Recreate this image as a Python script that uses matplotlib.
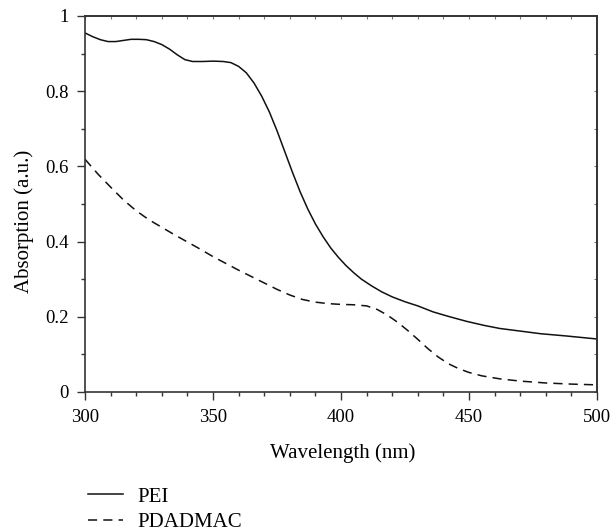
import numpy as np
import matplotlib
matplotlib.use('Agg')
from matplotlib import pyplot as plt
from matplotlib.ticker import MultipleLocator

# wavelength (nm) and absorption values
wl_pei = [300, 303, 306, 309, 312, 315, 318, 321, 324, 327, 330, 333, 336, 339,
          342, 346, 350, 354, 357, 360, 363, 366, 369, 372, 375, 378, 381, 384,
          387, 390, 393, 396, 399, 402, 405, 408, 412, 416, 420, 425, 430, 436,
          442, 449, 456, 462, 470, 478, 488, 500]
abs_pei = [0.955, 0.945, 0.937, 0.932, 0.932, 0.935, 0.938, 0.938, 0.937, 0.932,
           0.924, 0.912, 0.897, 0.884, 0.879, 0.879, 0.880, 0.879, 0.876, 0.866,
           0.849, 0.822, 0.787, 0.745, 0.695, 0.640, 0.585, 0.533, 0.487, 0.447,
           0.413, 0.383, 0.358, 0.336, 0.317, 0.300, 0.282, 0.266, 0.253, 0.240,
           0.229, 0.213, 0.201, 0.188, 0.177, 0.169, 0.162, 0.155, 0.149, 0.141]

wl_pdadmac = [300, 305, 310, 315, 320, 325, 330.5, 335, 340, 345, 350, 355, 360,
              365, 370, 375, 380, 385, 390, 395, 400, 405, 410, 414, 418, 422,
              426, 430, 434, 438, 442, 446, 450, 455, 462, 470, 480, 490, 500]
abs_pdadmac = [0.619, 0.580, 0.545, 0.511, 0.482, 0.458, 0.436, 0.418, 0.399,
               0.380, 0.360, 0.342, 0.324, 0.307, 0.290, 0.273, 0.258, 0.246,
               0.239, 0.235, 0.233, 0.232, 0.229, 0.220, 0.205, 0.186, 0.164,
               0.140, 0.115, 0.093, 0.075, 0.062, 0.052, 0.043, 0.035, 0.029,
               0.024, 0.021, 0.019]

x_ticks = [300, 350, 400, 450, 500]
y_ticks = [0, 0.2, 0.4, 0.6, 0.8, 1]
y_tick_labels = ['0', '0.2', '0.4', '0.6', '0.8', '1']

plt.rcParams['font.family'] = ['Liberation Serif', 'DejaVu Serif']
fs_tick = 13.5
fs_lab = 15
spine_col = '#333333'

fig = plt.figure(figsize=(6.15, 5.31), dpi=100)
ax = fig.add_axes([85/615, 1-392/531, (597-85)/615, (392-16)/531])

ax.plot(wl_pei, abs_pei, color='#111111', lw=1.1, label='PEI')
ax.plot(wl_pdadmac, abs_pdadmac, color='#111111', lw=1.1, linestyle=(0, (6, 4)),
        label='PDADMAC')

ax.set_xlim(300, 500)
ax.set_ylim(0, 1)
ax.set_xticks(x_ticks)
ax.set_yticks(y_ticks)
ax.set_yticklabels(y_tick_labels)
ax.xaxis.set_minor_locator(MultipleLocator(10))
ax.yaxis.set_minor_locator(MultipleLocator(0.1))
ax.tick_params(which='major', direction='out', length=6, width=1, color=spine_col,
               labelsize=fs_tick, pad=6)
ax.tick_params(which='minor', direction='out', length=3, width=1, color=spine_col)

# small inward ticks on top and right
top = ax.secondary_xaxis('top')
top.xaxis.set_major_locator(MultipleLocator(10))
top.tick_params(direction='in', length=2.5, width=0.8, color='#777777', labelsize=0)
top.set_xticklabels([])
right = ax.secondary_yaxis('right')
right.yaxis.set_major_locator(MultipleLocator(0.1))
right.tick_params(direction='in', length=2.5, width=0.8, color='#777777', labelsize=0)
right.set_yticklabels([])

for sp in list(ax.spines.values()) + [top.spines['top'], right.spines['right']]:
    sp.set_color(spine_col)
    sp.set_linewidth(1.2)

ax.set_xlabel('Wavelength (nm)', fontsize=fs_lab)
ax.set_ylabel('Absorption (a.u.)', fontsize=fs_lab)
ax.xaxis.set_label_coords(0.504, -0.162)
ax.yaxis.set_label_coords(-0.118, 0.455)
ax.xaxis.label.set_va('center')
ax.yaxis.label.set_va('center')

ax.legend(loc='upper left', bbox_to_anchor=(88/615, 1-487/531),
          bbox_transform=fig.transFigure, frameon=False, fontsize=fs_lab,
          handlelength=1.7, handletextpad=0.68, labelspacing=0.3,
          borderaxespad=0, borderpad=0)

fig.savefig('out.png', dpi=100)
